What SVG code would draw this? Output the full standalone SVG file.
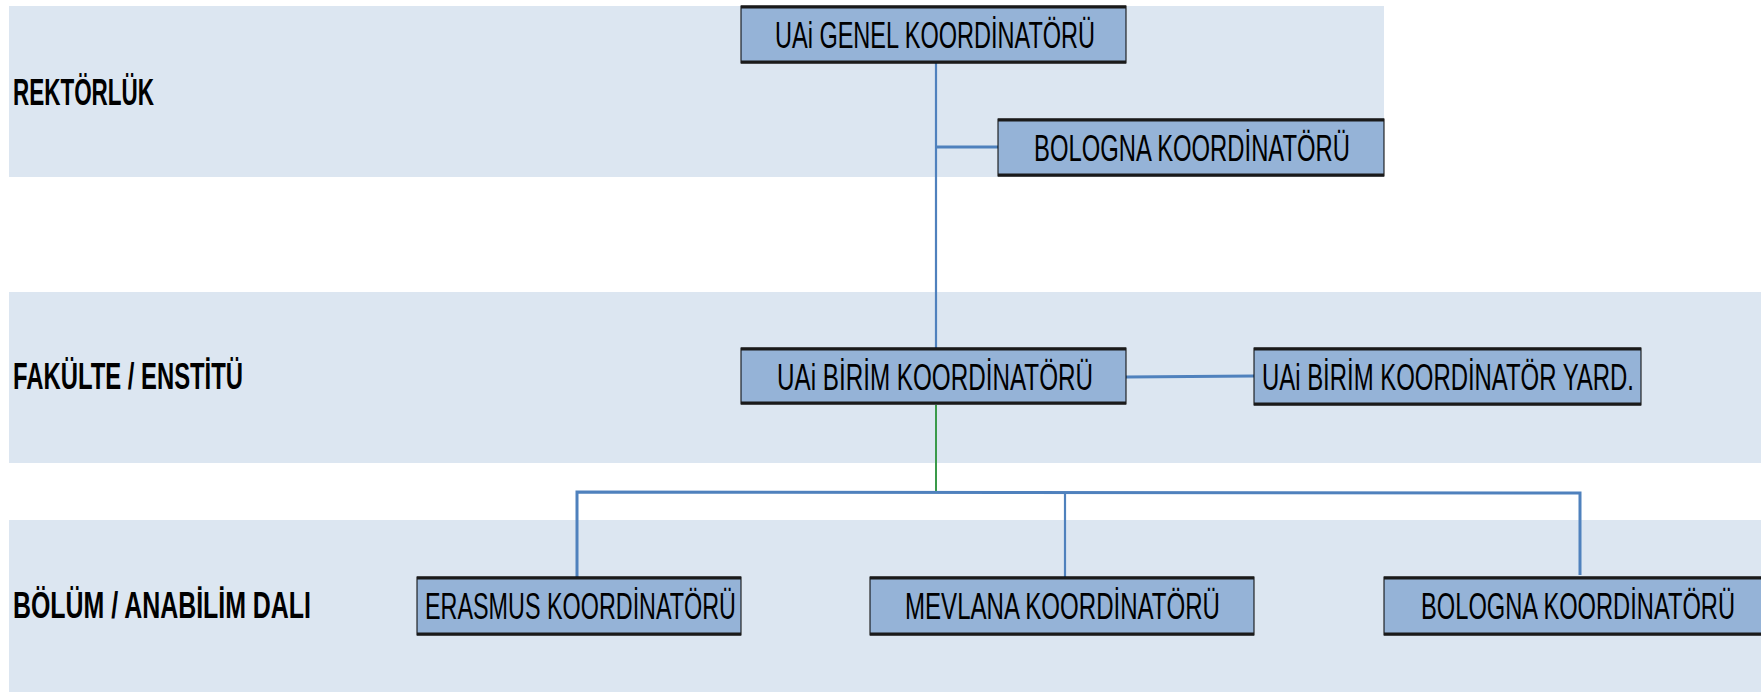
<svg xmlns="http://www.w3.org/2000/svg" width="1761" height="693" viewBox="0 0 1761 693">
<style>
.band{fill:#DCE6F1}
.box{fill:#95B3D7;stroke:#000;stroke-width:1}
.edge{stroke:#1a1a1a;stroke-width:3}
.t{font-family:"Liberation Sans Narrow","Liberation Sans",Arial,sans-serif;font-size:37px;fill:#000}
.lbl{font-family:"Liberation Sans Narrow","Liberation Sans",Arial,sans-serif;font-size:36px;font-weight:bold;fill:#000}
.c{stroke:#4F81BD;fill:none;stroke-width:3}
.cv{stroke:#4F81BD;fill:none;stroke-width:2.2}
.g{stroke:#3A9A4A;fill:none;stroke-width:2}
</style>
<rect class="band" x="9" y="6" width="1375" height="171"/>
<rect class="band" x="9" y="292" width="1752" height="171"/>
<rect class="band" x="9" y="520" width="1752" height="172"/>
<g id="labels">
<text class="lbl" x="13" y="105" textLength="141" lengthAdjust="spacingAndGlyphs">REKTÖRLÜK</text>
<text class="lbl" x="13" y="389" textLength="230" lengthAdjust="spacingAndGlyphs">FAKÜLTE / ENSTİTÜ</text>
<text class="lbl" x="13" y="618" textLength="298" lengthAdjust="spacingAndGlyphs">BÖLÜM / ANABİLİM DALI</text>
</g>
<g id="connectors">
<line class="cv" x1="936" y1="63" x2="936" y2="348"/>
<line class="c" x1="936" y1="147" x2="998" y2="147"/>
<line class="c" x1="1126" y1="377" x2="1254" y2="376"/>
<line class="g" x1="936" y1="405" x2="936" y2="493"/>
<polyline class="c" points="577,577 577,492 1580,493 1580,575"/>
<line class="cv" x1="1065" y1="493" x2="1065" y2="577"/>
</g>
<g id="n-genel">
<rect class="box" x="741" y="6" width="385" height="57"/>
<line class="edge" x1="741" y1="7" x2="1126" y2="7"/>
<line class="edge" x1="741" y1="62" x2="1126" y2="62"/>
<text class="t" x="775" y="48" textLength="320" lengthAdjust="spacingAndGlyphs">UAi GENEL KOORDİNATÖRÜ</text>
</g>
<g id="n-bologna-top">
<rect class="box" x="998" y="119" width="386" height="57"/>
<line class="edge" x1="998" y1="120" x2="1384" y2="120"/>
<line class="edge" x1="998" y1="175" x2="1384" y2="175"/>
<text class="t" x="1034" y="161" textLength="316" lengthAdjust="spacingAndGlyphs">BOLOGNA KOORDİNATÖRÜ</text>
</g>
<g id="n-birim">
<rect class="box" x="741" y="348" width="385" height="56"/>
<line class="edge" x1="741" y1="349" x2="1126" y2="349"/>
<line class="edge" x1="741" y1="403" x2="1126" y2="403"/>
<text class="t" x="777" y="390" textLength="316" lengthAdjust="spacingAndGlyphs">UAi BİRİM KOORDİNATÖRÜ</text>
</g>
<g id="n-yard">
<rect class="box" x="1254" y="348" width="387" height="57"/>
<line class="edge" x1="1254" y1="349" x2="1641" y2="349"/>
<line class="edge" x1="1254" y1="404" x2="1641" y2="404"/>
<text class="t" x="1262" y="390" textLength="372" lengthAdjust="spacingAndGlyphs">UAi BİRİM KOORDİNATÖR YARD.</text>
</g>
<g id="n-erasmus">
<rect class="box" x="417" y="577" width="324" height="58"/>
<line class="edge" x1="417" y1="578" x2="741" y2="578"/>
<line class="edge" x1="417" y1="634" x2="741" y2="634"/>
<text class="t" x="425" y="619" textLength="311" lengthAdjust="spacingAndGlyphs">ERASMUS KOORDİNATÖRÜ</text>
</g>
<g id="n-mevlana">
<rect class="box" x="870" y="577" width="384" height="58"/>
<line class="edge" x1="870" y1="578" x2="1254" y2="578"/>
<line class="edge" x1="870" y1="634" x2="1254" y2="634"/>
<text class="t" x="905" y="619" textLength="315" lengthAdjust="spacingAndGlyphs">MEVLANA KOORDİNATÖRÜ</text>
</g>
<g id="n-bologna-bottom">
<rect class="box" x="1384" y="577" width="380" height="58"/>
<line class="edge" x1="1384" y1="578" x2="1761" y2="578"/>
<line class="edge" x1="1384" y1="634" x2="1761" y2="634"/>
<text class="t" x="1421" y="619" textLength="314" lengthAdjust="spacingAndGlyphs">BOLOGNA KOORDİNATÖRÜ</text>
</g>
</svg>
